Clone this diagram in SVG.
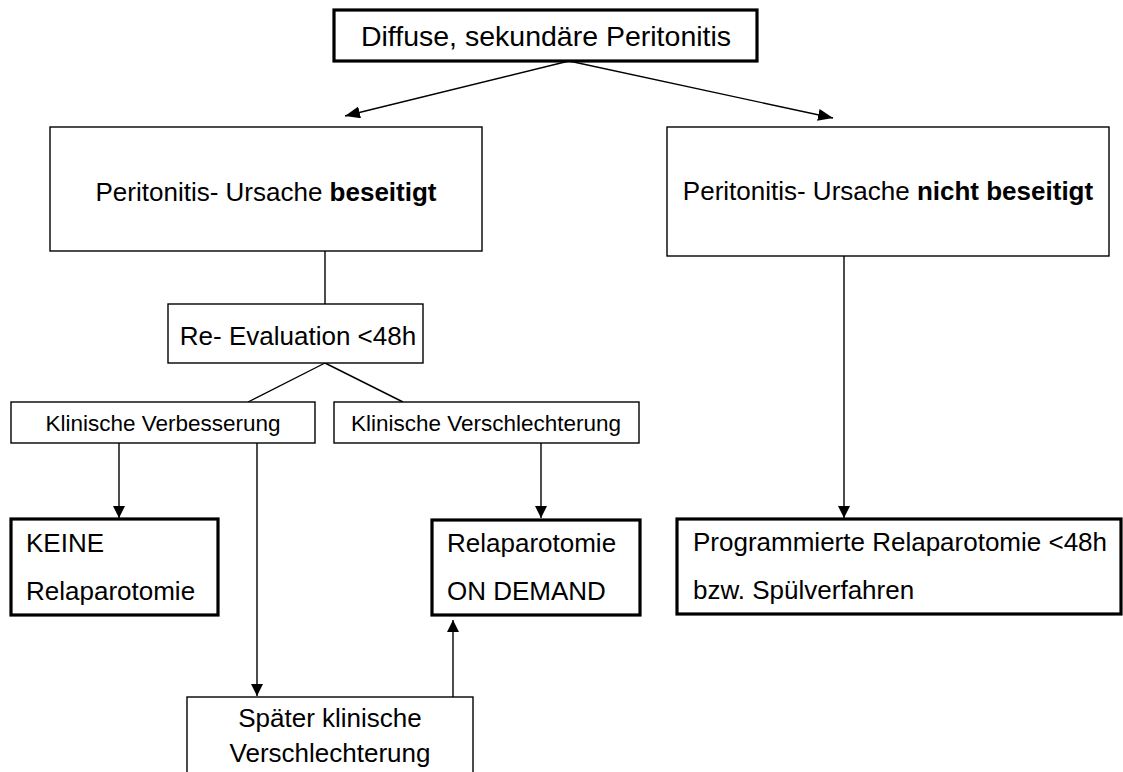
<svg xmlns="http://www.w3.org/2000/svg" width="1123" height="772" viewBox="0 0 1123 772">
<style>
  .box{fill:#fff;stroke:#000;stroke-width:1.4}
  .thick{fill:#fff;stroke:#000;stroke-width:3.2}
  .t{font-family:"Liberation Sans",Arial,sans-serif;font-size:26px;fill:#000}
  .big{font-size:28.5px}
  .sm{font-size:22.5px}
  .c{text-anchor:middle}
  .b{font-weight:bold}
  .conn line{stroke:#000;stroke-width:1.4;fill:none}
</style>
<defs>
  <marker id="arr" viewBox="0 0 12 12" refX="12" refY="6" markerWidth="12" markerHeight="12" markerUnits="userSpaceOnUse" orient="auto">
    <path d="M0,0 L12,6 L0,12 z" fill="#000"/>
  </marker>
  <marker id="arrL" viewBox="0 0 15 12" refX="15" refY="6" markerWidth="15" markerHeight="12" markerUnits="userSpaceOnUse" orient="auto">
    <path d="M0,0 L15,6 L0,12 z" fill="#000"/>
  </marker>
</defs>
<rect width="1123" height="772" fill="#fff"/>
<g class="conn">
  <line x1="569" y1="61" x2="345" y2="116" marker-end="url(#arrL)"/>
  <line x1="569" y1="61" x2="833" y2="118" marker-end="url(#arrL)"/>
  <line x1="325" y1="251" x2="325" y2="304"/>
  <line x1="325" y1="363" x2="248" y2="402"/>
  <line x1="325" y1="363" x2="403" y2="402"/>
  <line x1="119" y1="443" x2="119" y2="518" marker-end="url(#arr)"/>
  <line x1="257" y1="443" x2="257" y2="696" marker-end="url(#arr)"/>
  <line x1="541" y1="443" x2="541" y2="518" marker-end="url(#arr)"/>
  <line x1="453" y1="697" x2="453" y2="620" marker-end="url(#arr)"/>
  <line x1="844" y1="256" x2="844" y2="518" marker-end="url(#arr)"/>
</g>
<g id="n-diffuse">
  <rect class="thick" x="334" y="10" width="423" height="51"/>
  <text class="t big c" x="546" y="46">Diffuse, sekundäre Peritonitis</text>
</g>
<g id="n-beseitigt">
  <rect class="box" x="50" y="127" width="432" height="124"/>
  <text class="t c" x="266" y="201">Peritonitis- Ursache <tspan class="b">beseitigt</tspan></text>
</g>
<g id="n-nicht-beseitigt">
  <rect class="box" x="667" y="127" width="442" height="129"/>
  <text class="t c" x="888" y="200">Peritonitis- Ursache <tspan class="b">nicht beseitigt</tspan></text>
</g>
<g id="n-reeval">
  <rect class="box" x="168" y="304" width="255" height="59"/>
  <text class="t c" x="298" y="345">Re- Evaluation &lt;48h</text>
</g>
<g id="n-verbesserung">
  <rect class="box" x="11" y="402" width="304" height="41"/>
  <text class="t sm c" x="163" y="431">Klinische Verbesserung</text>
</g>
<g id="n-verschlechterung">
  <rect class="box" x="334" y="402" width="305" height="41"/>
  <text class="t sm c" x="486" y="431">Klinische Verschlechterung</text>
</g>
<g id="n-keine">
  <rect class="thick" x="11" y="519" width="207" height="96"/>
  <text class="t" x="26" y="552">KEINE</text>
  <text class="t" x="26" y="600">Relaparotomie</text>
</g>
<g id="n-ondemand">
  <rect class="thick" x="432" y="520" width="208" height="95"/>
  <text class="t" x="447" y="552">Relaparotomie</text>
  <text class="t" x="447" y="600">ON DEMAND</text>
</g>
<g id="n-programmiert">
  <rect class="thick" x="677" y="519" width="444" height="95"/>
  <text class="t" x="693" y="551">Programmierte Relaparotomie &lt;48h</text>
  <text class="t" x="693" y="599">bzw. Spülverfahren</text>
</g>
<g id="n-spaeter">
  <rect class="box" x="187" y="697" width="286" height="100"/>
  <text class="t c" x="330" y="727">Später klinische</text>
  <text class="t c" x="330" y="762">Verschlechterung</text>
</g>
</svg>
